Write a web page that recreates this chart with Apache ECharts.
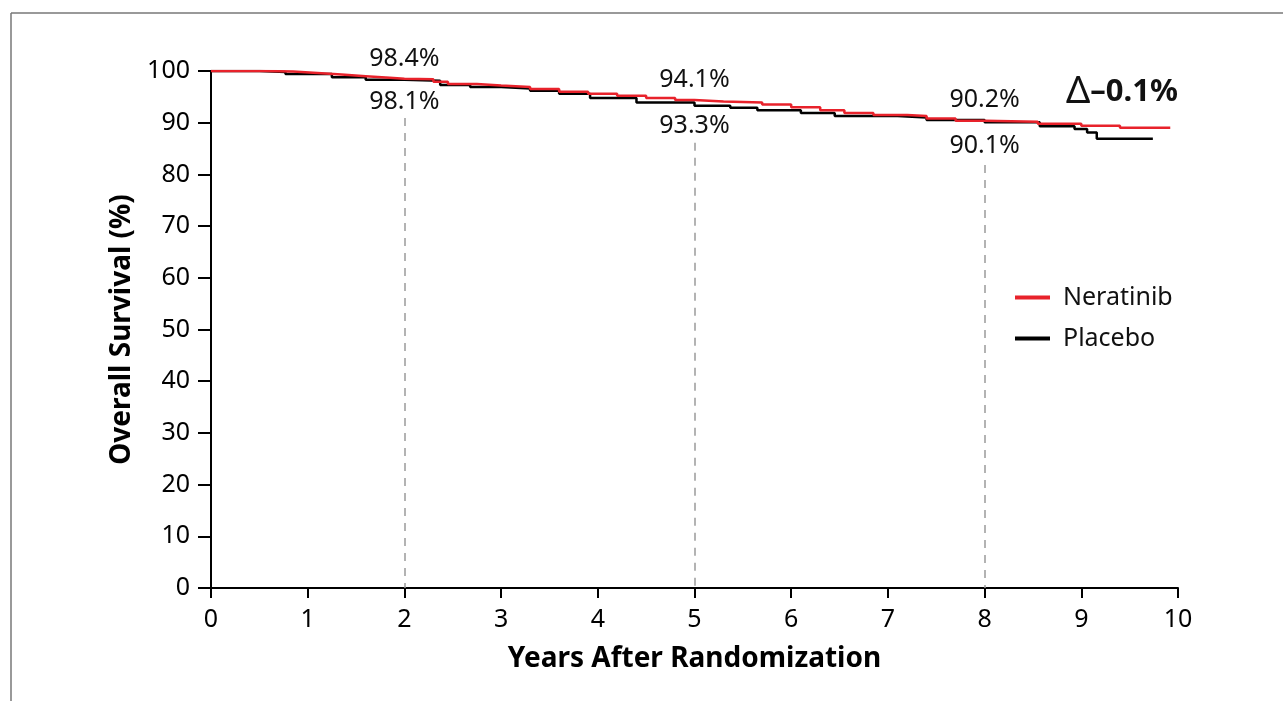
<!DOCTYPE html>
<html>
<head>
<meta charset="utf-8">
<script src="https://cdn.jsdelivr.net/npm/echarts@6/dist/echarts.min.js"></script>
<style>
html,body{margin:0;padding:0;background:#fff;}
#main{width:1283px;height:701px;}
</style>
</head>
<body>
<div id="main"></div>
<script>
// Kaplan-Meier steps [years, survival %]
var neratinib = [[0,100],[0.55,99.9],[0.85,99.6],[1.1,99.3],[1.35,99.0],[1.6,98.7],[1.85,98.5],[2.0,98.4],[2.3,97.9],[2.45,97.5],[2.75,97.2],[3.0,96.9],[3.3,96.5],[3.6,96.0],[3.9,95.6],[4.2,95.2],[4.5,94.8],[4.8,94.4],[5.0,94.1],[5.3,93.9],[5.7,93.5],[6.0,93.0],[6.3,92.4],[6.55,91.9],[6.85,91.5],[7.2,91.3],[7.4,90.8],[7.7,90.4],[8.0,90.2],[8.55,89.8],[9.0,89.4],[9.4,89.0],[9.92,89.0]];
var placebo = [[0,100],[0.5,99.8],[0.77,99.4],[1.25,98.8],[1.6,98.3],[2.0,98.1],[2.37,97.3],[2.68,96.9],[3.0,96.6],[3.3,96.2],[3.6,95.6],[3.92,94.8],[4.4,93.9],[5.0,93.3],[5.37,92.9],[5.65,92.4],[6.1,91.9],[6.45,91.3],[7.1,91.0],[7.4,90.5],[8.0,90.1],[8.57,89.3],[8.93,88.8],[9.06,88.1],[9.16,86.9],[9.74,86.9]];

var milestoneYears = [2, 5, 8];
var neratinibLabels = ['98.4%', '94.1%', '90.2%'];
var placeboLabels = ['98.1%', '93.3%', '90.1%'];
var deltaText = '\u20130.1%';

var seriesNames = ['Neratinib', 'Placebo'];
var xTicks = [0,1,2,3,4,5,6,7,8,9,10];
var yTicks = [0,10,20,30,40,50,60,70,80,90,100];

var FONT = 'Noto Sans';
var chart = echarts.init(document.getElementById('main'));

// dashed reference lines start below the lower label
var dashTop = [90.9, 86.1, 81.8];
var refLines = milestoneYears.map(function(t, i){
	return [{coord:[t, dashTop[i]]}, {coord:[t, 0]}];
});

var option = {
	animation: false,
	grid: {left: 211, right: 105, top: 71, bottom: 113},
	legend: {
		orient: 'vertical',
		left: 1010,
		top: 280,
		itemWidth: 35,
		itemHeight: 4,
		itemGap: 16,
		icon: 'rect',
		data: seriesNames,
		textStyle: {fontFamily: FONT, fontSize: 25, color: '#111', padding: [0,0,0,8]}
	},
	xAxis: {
		type: 'value', min: 0, max: 10, interval: 1,
		name: 'Years After Randomization',
		nameLocation: 'middle', nameGap: 57,
		nameTextStyle: {fontFamily: FONT, fontSize: 28, fontWeight: 'bold', color: '#000'},
		axisLine: {lineStyle: {color: '#000', width: 2}},
		axisTick: {length: 10, lineStyle: {color: '#000', width: 2}},
		axisLabel: {fontFamily: FONT, fontSize: 25, color: '#000', margin: 19,
			formatter: function(v){ return xTicks.indexOf(v) >= 0 ? String(v) : ''; }},
		splitLine: {show: false}
	},
	yAxis: {
		type: 'value', min: 0, max: 100, interval: 10,
		name: 'Overall Survival (%)',
		nameLocation: 'middle', nameGap: 71, nameRotate: 90,
		nameTextStyle: {fontFamily: FONT, fontSize: 28, fontWeight: 'bold', color: '#000'},
		axisLine: {show: true, lineStyle: {color: '#000', width: 2}},
		axisTick: {show: true, length: 13, lineStyle: {color: '#000', width: 2}},
		axisLabel: {fontFamily: FONT, fontSize: 25, color: '#000', margin: 21,
			formatter: function(v){ return yTicks.indexOf(v) >= 0 ? String(v) : ''; }},
		splitLine: {show: false}
	},
	series: [
		{
			name: seriesNames[1], type: 'line', step: 'end', data: placebo,
			symbol: 'none', lineStyle: {color: '#000', width: 2.5}, itemStyle: {color: '#000'},
			z: 2,
			markLine: {
				silent: true, symbol: 'none', label: {show: false},
				lineStyle: {color: '#9a9a9a', type: [8, 7], width: 1.5},
				data: refLines
			}
		},
		{
			name: seriesNames[0], type: 'line', step: 'end', data: neratinib,
			symbol: 'none', lineStyle: {color: '#e8222b', width: 2.5}, itemStyle: {color: '#e8222b'},
			z: 3
		}
	]
};
chart.setOption(option);

// labels, frame and delta
var g = [
	{type: 'line', shape: {x1: 11, y1: 13, x2: 1283, y2: 13}, style: {stroke: '#777', lineWidth: 1.5}},
	{type: 'line', shape: {x1: 11, y1: 13, x2: 11, y2: 701}, style: {stroke: '#777', lineWidth: 1.5}}
];
milestoneYears.forEach(function(t, i){
	var px = chart.convertToPixel({gridIndex: 0}, [t, 0])[0];
	var yTop = chart.convertToPixel({gridIndex: 0}, [t, 100])[1];
	var offs = [[-12, 31], [9, 55], [29, 75]];
	g.push({type: 'text', x: px, y: yTop + offs[i][0], style: {text: neratinibLabels[i], fontFamily: FONT, fontSize: 25, fill: '#111', align: 'center', verticalAlign: 'middle'}});
	g.push({type: 'text', x: px, y: yTop + offs[i][1], style: {text: placeboLabels[i], fontFamily: FONT, fontSize: 25, fill: '#111', align: 'center', verticalAlign: 'middle'}});
});
g.push({type: 'text', x: 1066, y: 92, style: {
	text: '{d|\u0394}{v|' + deltaText + '}',
	verticalAlign: 'middle',
	rich: {
		d: {fontFamily: FONT, fontSize: 38, fill: '#111'},
		v: {fontFamily: FONT, fontSize: 31, fontWeight: 'bold', fill: '#111'}
	}
}});
chart.setOption({graphic: g});
</script>
</body>
</html>
